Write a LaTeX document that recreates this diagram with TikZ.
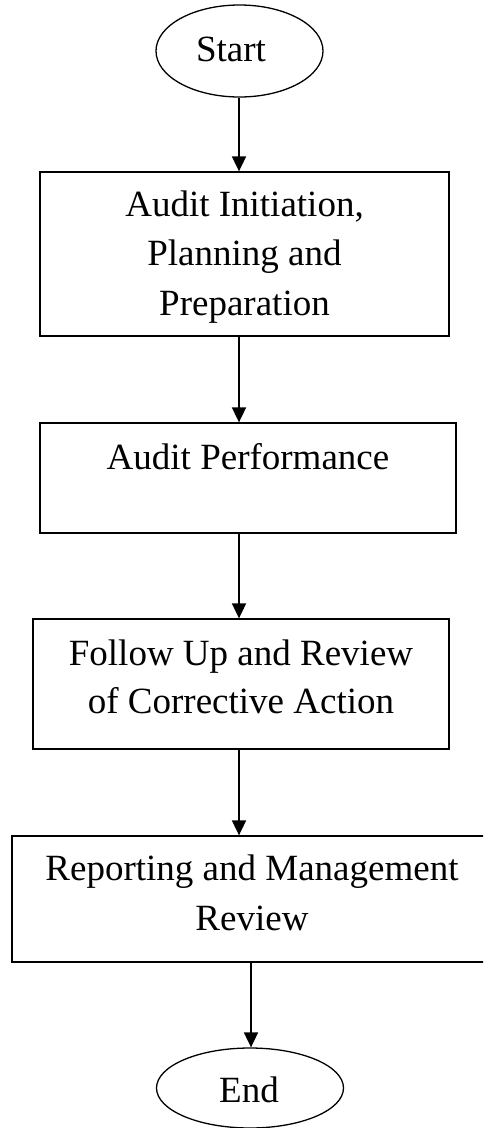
\documentclass[tikz,border=0pt]{standalone}
\usepackage{fontspec}
\setmainfont{Liberation Serif}
\usetikzlibrary{shapes.geometric,arrows.meta}
\begin{document}
\begin{tikzpicture}[x=1pt,y=-1pt,
  stepbox/.style={draw,line width=1.3pt,rectangle,inner sep=0pt},
  term/.style={draw,line width=1.3pt,ellipse,inner sep=0pt},
  txt/.style={anchor=base,inner sep=0pt,font=\fontsize{37}{49}\selectfont},
  arr/.style={line width=1.8pt,-{Triangle[length=15pt,width=14pt]}}]
\useasboundingbox (0,0) rectangle (483,1128);
\begin{scope}
\clip (0,0) rectangle (483,1128);
\node[term,minimum width=167pt,minimum height=92pt] (start) at (239.5,51) {};
\node[txt] (tstart) at (231,61) {Start};
\node[stepbox,minimum width=409pt,minimum height=164pt] (b1) at (244.5,254) {};
\node[txt] (t1a) at (244.5,216) {Audit Initiation,};
\node[txt] (t1b) at (244.5,265) {Planning and};
\node[txt] (t1c) at (244.5,315) {Preparation};
\node[stepbox,minimum width=416pt,minimum height=110pt] (b2) at (248,478) {};
\node[txt] (t2) at (248,469) {Audit Performance};
\node[stepbox,minimum width=416pt,minimum height=130pt] (b3) at (241,684) {};
\node[txt] (t3a) at (241,665) {Follow Up and Review};
\node[txt] (t3b) at (241,713) {of Corrective Action};
\node[stepbox,minimum width=480pt,minimum height=126pt] (b4) at (252,899) {};
\node[txt] (t4a) at (252,880) {Reporting and Management};
\node[txt] (t4b) at (252,930) {Review};
\node[term,minimum width=187pt,minimum height=80pt] (end) at (250,1088) {};
\node[txt] (tend) at (249,1102) {End};
\coordinate (ax) at (239,0);
\coordinate (bx) at (251,0);
\draw[arr] (start.south -| ax) -- (b1.north -| ax);
\draw[arr] (b1.south -| ax) -- (b2.north -| ax);
\draw[arr] (b2.south -| ax) -- (b3.north -| ax);
\draw[arr] (b3.south -| ax) -- (b4.north -| ax);
\draw[arr] (b4.south -| bx) -- (end.north -| bx);
\end{scope}
\end{tikzpicture}
\end{document}
